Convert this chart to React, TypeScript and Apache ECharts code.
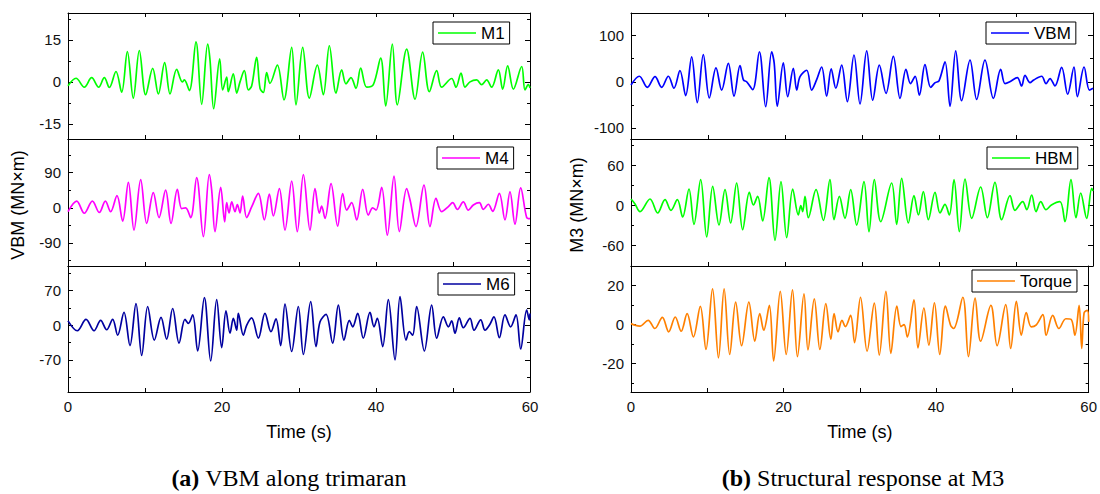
import React, { useEffect, useRef } from "react";
import * as echarts from "echarts";

// ---------- data (time s, value MN×m) ----------
const TIME_TICKS = [0, 10, 20, 30, 40, 50, 60];
const TIME_LABELS = [0, 20, 40, 60];

const M1: number[][] = [
  [0, -1.4], [1.04, 1.3], [2.12, -1.9], [3.07, 1.5], [3.98, -1.9], [4.72, 1.5], [5.37, -2.0], [6.23, 3.7],
  [6.97, -3.7], [7.71, 10.8], [8.48, -5.8], [9.26, 11.2], [10.09, -4.6], [11.0, 4.8], [11.73, -4.3], [12.55, 6.9],
  [13.25, -4.3], [14.11, 4.5], [14.85, 0], [15.11, 0.7], [15.76, -3.1], [16.62, 14.3], [17.36, -8.0], [18.14, 13.5],
  [18.44, 7.9], [18.92, -9.6], [19.7, 8.2], [20.09, -2.9], [20.61, 1.7], [20.82, -3.5], [21.47, 2.9], [21.91, -4.0],
  [22.34, 0], [22.9, 4.0], [23.42, -2.9], [23.85, -1.5], [24.5, 8.8], [24.94, -2.3], [25.37, -3.8], [25.8, 3.3],
  [26.23, -0.5], [27.19, 6.0], [28.05, -6.4], [29.05, 12.3], [29.61, -8.2], [30.48, 12.3], [31.34, -5.8], [32.38, 6.0],
  [33.16, -4.6], [33.94, 12.9], [34.81, -4.0], [35.54, 4.3], [36.1, -0.7], [36.75, 1.5], [37.4, -2.3], [38.01, 4.9],
  [38.79, -1.9], [39.65, -1.0], [40.61, 8.5], [41.26, -8.6], [42.12, 13.5], [42.77, -8.2], [43.98, 11.7], [45.07, -6.2],
  [46.06, 10.6], [46.93, -3.5], [47.88, 4.0], [48.53, -1.9], [49.83, 1.2], [50.39, -1.9], [51.04, 3.1], [51.56, -1.9],
  [52.21, 0], [53.07, 0.7], [53.72, -1.0], [54.37, 0.7], [55.02, -1.9], [55.89, 4.3], [56.45, -2.6], [57.1, 5.7],
  [57.84, -2.6], [58.92, 5.5], [59.35, -2.9], [59.78, -1.0], [60, -2.2],
];

const M4: number[][] = [
  [0, -10], [1.13, 17], [2.12, -14], [3.16, 17], [4.07, -12], [4.85, 17], [5.54, -10], [6.36, 31],
  [7.1, -34], [7.84, 65], [8.57, -57], [9.44, 72], [10.22, -40], [11.08, 39], [11.82, -25], [12.68, 45],
  [13.38, -40], [14.2, 47], [14.76, -2], [15.28, 0], [15.93, -25], [16.71, 77], [17.58, -74], [18.35, 85],
  [18.66, 45], [19.09, -61], [19.83, 52], [20.35, -36], [20.61, 13], [20.91, -13], [21.26, 15], [21.69, -10],
  [21.99, 8], [22.34, -13], [22.68, 30], [23.2, -25], [23.85, 2], [24.72, 37], [25.5, -31], [26.15, 35],
  [26.67, -21], [27.45, 49], [28.18, -57], [29.05, 68], [29.78, -61], [30.57, 85], [31.43, -57], [32.08, 49],
  [32.64, -14], [32.94, 4], [33.38, -27], [34.16, 62], [35.02, -47], [35.67, 36], [36.19, -6], [36.84, 13],
  [37.49, -31], [38.27, 47], [39.0, -19], [39.57, 0], [40.0, -6], [40.74, 52], [41.47, -70], [42.34, 81],
  [43.03, -61], [43.98, 49], [44.42, 20], [45.19, -48], [46.23, 58], [47.01, -48], [47.79, 24], [48.53, -10],
  [49.4, 3], [49.96, 13], [50.57, -4], [51.34, 15], [51.99, -6], [52.64, 7], [53.42, 13], [53.94, -4],
  [54.59, 9], [55.15, -9], [56.02, 37], [56.75, -31], [57.4, 41], [58.05, -42], [58.79, 51], [59.57, -25],
  [60, -28],
];

const M6: number[][] = [
  [0, 9], [1.21, -11], [2.34, 12], [3.38, -11], [4.24, 10], [5.02, -9], [5.8, 12], [6.45, -20],
  [7.27, 26], [8.05, -41], [8.83, 44], [9.57, -61], [10.35, 38], [11.21, -30], [12.08, 16], [12.81, -28],
  [13.59, 34], [14.42, -36], [15.19, 12], [15.63, 4], [16.19, 21], [16.84, -52], [17.71, 56], [18.53, -72],
  [19.31, 52], [19.96, -45], [20.52, 29], [21.04, -16], [21.47, 14], [21.91, -10], [22.12, 24], [22.77, -20],
  [23.2, 0], [23.85, 15], [24.72, -26], [25.58, 24], [26.36, -13], [27.01, 13], [27.62, -41], [28.18, 43],
  [29.05, -53], [29.91, 38], [30.57, -59], [31.52, 48], [32.21, -43], [32.73, 7], [33.51, 22], [34.37, -36],
  [35.11, 41], [35.84, -30], [36.54, 10], [36.97, -3], [37.62, 24], [38.35, -26], [39.22, 26], [39.74, -3],
  [40.17, 14], [40.87, -43], [41.6, 52], [42.47, -70], [43.12, 58], [43.9, -30], [44.33, -13], [44.76, -20],
  [45.28, 38], [46.28, -52], [47.23, 41], [47.88, -26], [48.75, 17], [49.4, -3], [49.83, 9], [50.26, -16],
  [50.82, 15], [51.34, -5], [52.21, 14], [52.73, -10], [53.6, 11], [54.16, -10], [54.72, 0], [55.32, 17],
  [56.02, -25], [56.75, 21], [57.49, -3], [58.18, 21], [58.79, -48], [59.57, 31], [59.91, 11], [60, 24],
];

const VBM: number[][] = [
  [0, -7], [1.08, 12], [2.12, -12], [3.12, 11], [3.98, -12], [4.85, 12], [5.58, -14], [6.36, 24],
  [7.1, -30], [7.88, 54], [8.61, -45], [9.39, 59], [10.17, -35], [11.04, 30], [11.77, -18], [12.64, 40],
  [13.38, -31], [14.16, 35], [14.6, 4], [15.02, 0], [15.8, -17], [16.67, 65], [17.49, -54], [18.27, 65],
  [18.6, 40], [19.0, -53], [19.78, 41], [20.35, -32], [21.08, 29], [21.52, -18], [21.95, 11], [22.82, 25],
  [23.46, -18], [24.1, 4], [24.76, 32], [25.41, -31], [26.0, 28], [26.6, -14], [27.36, 36], [28.1, -43],
  [28.96, 58], [29.74, -48], [30.61, 67], [31.39, -40], [32.25, 36], [33.12, -25], [34.07, 55], [34.94, -36],
  [35.71, 27], [36.3, -4], [36.9, 12], [37.45, -29], [38.18, 37], [38.92, -12], [39.5, -2], [40.0, 2],
  [40.78, 43], [41.43, -53], [42.17, 67], [42.94, -41], [44.03, 47], [44.89, -38], [45.97, 47], [47.06, -36],
  [48.01, 27], [48.57, -4], [49.2, 0], [50.17, 9], [50.73, -9], [51.17, 14], [51.82, -2], [52.3, 4],
  [53.33, 12], [53.9, -4], [54.42, 7], [55.06, -9], [55.93, 31], [56.71, -27], [57.53, 32], [57.97, -32],
  [58.84, 32], [59.53, -18], [60, -14],
];

const HBM: number[][] = [
  [0, 10], [0.5, 3], [1.17, -9], [2.47, 10], [3.46, -11], [4.42, 9], [5.19, -7], [6.02, 9],
  [6.71, -17], [7.53, 25], [8.18, -28], [9.05, 39], [9.83, -47], [10.61, 29], [11.43, -29], [12.21, 24],
  [12.94, -26], [13.72, 34], [14.5, -36], [15.37, 20], [15.9, 1], [16.45, 14], [17.1, -23], [17.92, 42],
  [18.7, -52], [19.48, 36], [20.22, -48], [21.0, 25], [21.73, -14], [22.05, 0], [22.3, -9], [22.6, 14],
  [23.03, -18], [24.03, 24], [24.98, -22], [25.84, 39], [26.36, -21], [27.06, 14], [27.79, -19], [28.53, 24],
  [29.31, -29], [30.26, 36], [30.91, -39], [31.6, 39], [32.43, -24], [33.85, 34], [34.5, -28], [35.15, 41],
  [36.02, -26], [36.75, 15], [37.32, -14], [37.97, 21], [38.62, -21], [39.48, 20], [40.13, -11], [40.78, 2],
  [41.34, -14], [41.95, 39], [42.64, -39], [43.38, 40], [44.25, -19], [45.41, 28], [46.28, -18], [47.27, 35],
  [48.14, -21], [49.22, 15], [49.87, -7], [50.87, 6], [51.4, -6], [52.04, 16], [52.6, -9], [53.21, 6],
  [53.9, -6], [54.6, 1], [55.71, 6], [56.36, -24], [57.14, 39], [57.79, -18], [58.4, 19], [59.18, -19],
  [59.83, 26], [60, 22],
];

const TORQUE: number[][] = [
  [0, 0.5], [0.5, -0.3], [1.17, -0.8], [2.25, 2.2], [3.12, -2.0], [4.11, 3.7], [4.94, -3.7], [5.8, 3.9],
  [6.58, -3.4], [7.36, 5.6], [8.18, -6.3], [9.09, 9.3], [9.83, -12.7], [10.69, 18.3], [11.47, -17], [12.21, 18.3],
  [12.94, -15.3], [13.72, 11.5], [14.5, -10.8], [15.45, 11.5], [16.23, -8.5], [16.88, 5.6], [17.4, -2.9], [18.14, 9.8],
  [18.7, -18.6], [19.57, 17], [20.35, -15.3], [21.17, 17.8], [21.82, -16.4], [22.68, 15.8], [23.2, -13], [24.03, 13.2],
  [24.76, -12.7], [25.54, 10.7], [26.2, -7.5], [26.62, 5.6], [27.14, -3.7], [27.66, 2.2], [28.1, -1], [28.79, 4.7],
  [29.31, -9.2], [30.09, 14], [30.95, -13.6], [31.9, 11], [32.55, -15.6], [33.42, 17], [34.07, -14.7], [34.85, 9.5],
  [35.4, -1], [35.8, 0], [36.23, -6.3], [37.1, 12.7], [37.62, -11.9], [38.4, 8.5], [39.05, -10.5], [39.78, 11.2],
  [40.48, -15.3], [41.22, 9.5], [41.9, -0.3], [42.3, -2], [43.5, 14], [44.24, -16.4], [45.11, 13.6], [45.84, -8.5],
  [47.18, 9.8], [48.0, -10.8], [49.13, 10.2], [49.78, -12.2], [50.52, 11.9], [51.17, -5.4], [51.82, 6.1], [52.47, -1.2],
  [53.1, -0.3], [54.0, 5.1], [54.42, -5.4], [55.29, 4.7], [56.1, -2], [57.01, 3], [57.7, 2.7], [58.2, -5.4],
  [58.75, 9.8], [59.09, -12.2], [59.4, 6], [59.83, 7.3], [60, 1.4],
];

// y-axis ranges and ticks for each sub-plot
const SERIES_NAMES = ["M1", "M4", "M6", "VBM", "HBM", "Torque"];
const SERIES_DATA = [M1, M4, M6, VBM, HBM, TORQUE];
const SERIES_COLORS = ["#00ff00", "#ff00ff", "#0000a0", "#0000ff", "#00ff00", "#ff8000"];
const Y_MIN = [-20.4, -149, -135, -124, -90.5, -34.5];
const Y_MAX = [24.6, 176, 120, 149, 100, 30];
const Y_MAJOR = [[-15, 0, 15], [-90, 0, 90], [-70, 0, 70], [-100, 0, 100], [-60, 0, 60], [-20, 0, 20]];
const Y_MINOR = [[-7.5, 7.5, 22.5], [-135, -45, 45, 135], [-105, -35, 35, 105], [-50, 50], [-30, 30, 90], [-30, -10, 10]];

// ---------- layout ----------
const GRID_LEFTS = [68, 68, 68, 631, 631, 631];
const GRID_TOPS = [13, 139, 266, 13, 139, 266];
const GRID_HEIGHTS = [126, 127, 126, 126, 127, 126];
const GRID_WIDTH = 462;
const LEGEND_POS = [[433, 22], [437, 147], [438, 273], [986, 22], [987, 147], [972, 270]];

const FONT = "Liberation Sans, Arial, sans-serif";
const SERIF = `"Liberation Serif", "Times New Roman", serif`;

export default function App() {
  const ref = useRef<HTMLDivElement>(null);

  useEffect(() => {
    if (!ref.current) return;
    const chart = echarts.init(ref.current, undefined, { renderer: "svg" });

    const grid: any[] = [];
    const xAxis: any[] = [];
    const yAxis: any[] = [];
    const series: any[] = [];
    const legend: any[] = [];

    for (let i = 0; i < 6; i++) {
      const isBottom = i === 2 || i === 5;
      const isTop = i === 0 || i === 3;
      grid.push({ left: GRID_LEFTS[i], top: GRID_TOPS[i], width: GRID_WIDTH, height: GRID_HEIGHTS[i] });

      const baseX = {
        type: "value",
        gridIndex: i,
        min: 0,
        max: 60,
        interval: 10,
        splitLine: { show: false },
        axisLine: { show: true, onZero: false, lineStyle: { color: "#000", width: 1 } },
      };
      xAxis.push({
        ...baseX,
        position: "bottom",
        axisTick: { show: true, inside: true, length: 4, customValues: TIME_TICKS, lineStyle: { color: "#000" } },
        axisLabel: {
          show: isBottom,
          customValues: TIME_LABELS,
          color: "#111",
          fontSize: 15,
          fontFamily: FONT,
          margin: 7,
        },
        name: isBottom ? "Time (s)" : "",
        nameLocation: "middle",
        nameGap: 31,
        nameTextStyle: { color: "#000", fontSize: 18, fontFamily: FONT },
      });
      xAxis.push({
        ...baseX,
        position: "top",
        axisTick: { show: isTop, inside: true, length: 4, customValues: TIME_TICKS, lineStyle: { color: "#000" } },
        axisLabel: { show: false },
      });

      const baseY = {
        type: "value",
        gridIndex: i,
        min: Y_MIN[i],
        max: Y_MAX[i],
        splitLine: { show: false },
      };
      yAxis.push({
        ...baseY,
        position: "left",
        axisLine: { show: true, onZero: false, lineStyle: { color: "#000", width: 1 } },
        axisTick: { show: true, inside: true, length: 5, customValues: Y_MAJOR[i], lineStyle: { color: "#000" } },
        axisLabel: {
          show: true,
          customValues: Y_MAJOR[i],
          color: "#111",
          fontSize: 15,
          fontFamily: FONT,
          margin: 7,
        },
      });
      yAxis.push({
        ...baseY,
        position: "left",
        axisLine: { show: false, onZero: false },
        axisTick: { show: true, inside: true, length: 3, customValues: Y_MINOR[i], lineStyle: { color: "#000" } },
        axisLabel: { show: false },
      });
      yAxis.push({
        ...baseY,
        position: "right",
        axisLine: { show: true, onZero: false, lineStyle: { color: "#000", width: 1 } },
        axisTick: { show: true, inside: true, length: 5, customValues: Y_MAJOR[i], lineStyle: { color: "#000" } },
        axisLabel: { show: false },
      });
      yAxis.push({
        ...baseY,
        position: "right",
        axisLine: { show: false, onZero: false },
        axisTick: { show: true, inside: true, length: 3, customValues: Y_MINOR[i], lineStyle: { color: "#000" } },
        axisLabel: { show: false },
      });

      series.push({
        type: "line",
        name: SERIES_NAMES[i],
        xAxisIndex: 2 * i,
        yAxisIndex: 4 * i,
        data: SERIES_DATA[i],
        symbol: "none",
        showSymbol: false,
        smooth: 0.35,
        clip: true,
        lineStyle: { color: SERIES_COLORS[i], width: 1.7 },
        itemStyle: { color: SERIES_COLORS[i] },
      });

      legend.push({
        data: [{ name: SERIES_NAMES[i], icon: "rect" }],
        left: LEGEND_POS[i][0],
        top: LEGEND_POS[i][1],
        orient: "horizontal",
        backgroundColor: "#fff",
        borderColor: "#000",
        borderWidth: 1,
        borderRadius: 0,
        padding: [2, 5, 2, 5],
        itemWidth: 38,
        itemHeight: 1.5,
        itemGap: 0,
        selectedMode: false,
        itemStyle: { color: SERIES_COLORS[i], borderWidth: 0 },
        textStyle: { color: "#000", fontSize: 17, fontFamily: FONT, lineHeight: 18 },
      });
    }

    const nameStyle = (text: string) => ({
      text,
      fill: "#000",
      font: `18px ${FONT}`,
      align: "center",
      verticalAlign: "middle",
      textAlign: "center",
      textVerticalAlign: "middle",
    });
    const captionStyle = (label: string, rest: string) => ({
      text: `{b|${label}} ${rest}`,
      fill: "#000",
      font: `24px ${SERIF}`,
      align: "center",
      verticalAlign: "middle",
      textAlign: "center",
      textVerticalAlign: "middle",
      rich: {
        b: { fontWeight: "bold", fontSize: 24, fontFamily: SERIF, fill: "#000" },
      },
    });

    const graphic = [
      { type: "text", x: 18, y: 205, rotation: Math.PI / 2, style: nameStyle("VBM (MN×m)") },
      { type: "text", x: 577, y: 205, rotation: Math.PI / 2, style: nameStyle("M3 (MN×m)") },
      { type: "text", x: 289, y: 478, style: captionStyle("(a)", "VBM along trimaran") },
      { type: "text", x: 863, y: 478, style: captionStyle("(b)", "Structural response at M3") },
    ];

    chart.setOption({
      animation: false,
      backgroundColor: "#fff",
      grid,
      xAxis,
      yAxis,
      series,
      legend,
      graphic,
    });

    return () => chart.dispose();
  }, []);

  return (
    <div
      ref={ref}
      style={{ position: "absolute", left: 0, top: 0, width: 1100, height: 494, background: "#fff" }}
    />
  );
}
